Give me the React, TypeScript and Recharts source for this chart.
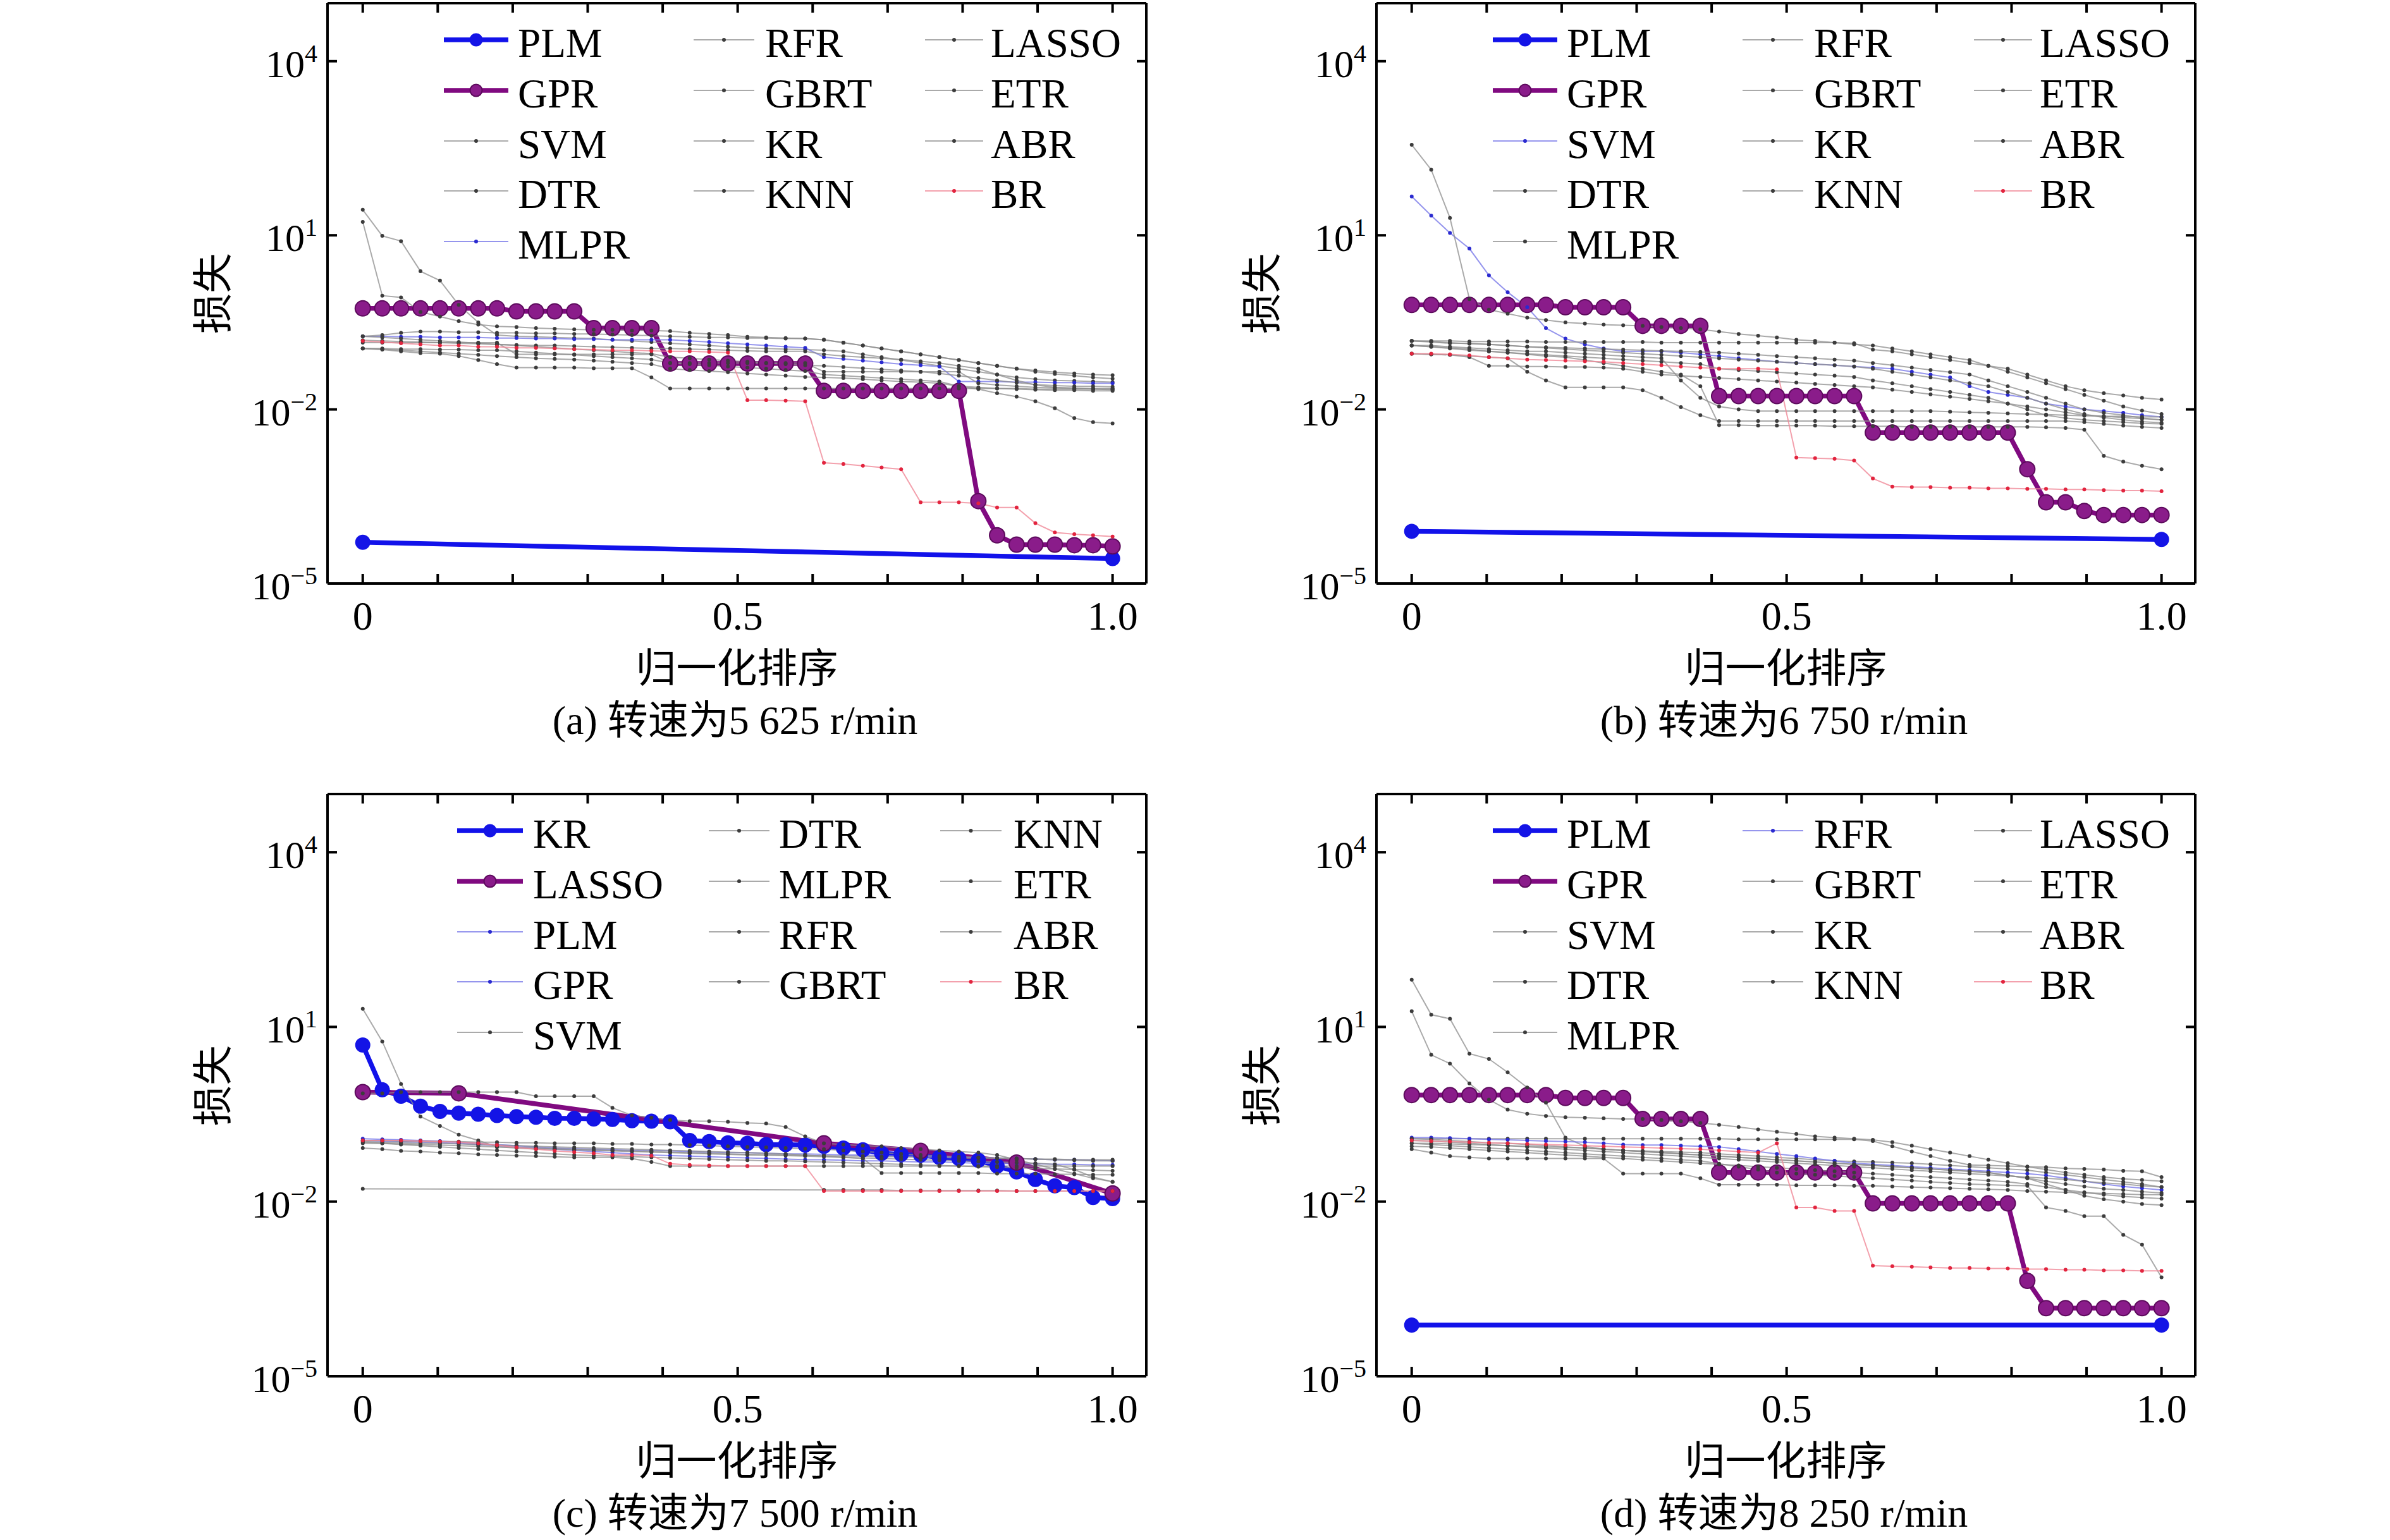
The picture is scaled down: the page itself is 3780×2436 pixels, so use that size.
import React from 'react'
import { LineChart, Line, XAxis, YAxis, ReferenceLine } from 'recharts'

const N = null

// normalized rank of each sample (40 samples per model)
const RANK = [
  0, 0.026, 0.051, 0.077, 0.103, 0.128, 0.154, 0.179, 0.205, 0.231,
  0.256, 0.282, 0.308, 0.333, 0.359, 0.385, 0.41, 0.436, 0.462, 0.487,
  0.513, 0.538, 0.564, 0.59, 0.615, 0.641, 0.667, 0.692, 0.718, 0.744,
  0.769, 0.795, 0.821, 0.846, 0.872, 0.897, 0.923, 0.949, 0.974, 1,
]

const X_TICKS = [0, 0.1, 0.2, 0.3, 0.4, 0.5, 0.6, 0.7, 0.8, 0.9, 1]
const X_LABELS: Record<string, string> = { '0': '0', '0.5': '0.5', '1': '1.0' }
const Y_TICKS = [1e-5, 1e-2, 1e1, 1e4]
const X_DOMAIN = [-0.047, 1.045]
const Y_DOMAIN = [1e-5, 1e5]

// ---- values are log10(loss); N = no sample ----

// (a) 5 625 r/min
const PLM_A = [-4.29, N, N, N, N, N, N, N, N, N, N, N, N, N, N, N, N, N, N, N, N, N, N, N, N, N, N, N, N, N, N, N, N, N, N, N, N, N, N, -4.57]
const GPR_A = [
  -0.26, -0.26, -0.26, -0.26, -0.26, -0.26, -0.26, -0.26, -0.31, -0.31,
  -0.31, -0.31, -0.6, -0.6, -0.6, -0.6, -1.21, -1.21, -1.21, -1.21,
  -1.21, -1.21, -1.21, -1.21, -1.68, -1.68, -1.68, -1.68, -1.68, -1.68,
  -1.68, -1.68, -3.58, -4.17, -4.33, -4.33, -4.33, -4.34, -4.34, -4.36,
]
const SVM_A = [
  1.44, 0.99, 0.9, 0.38, 0.22, -0.2, -0.5, -0.72, -0.74, -0.75,
  -0.76, -0.77, -0.78, -0.8, -0.82, -0.84, -0.86, -0.88, -0.9, -0.92,
  -0.94, -0.95, -0.96, -0.97, -0.98, -1.0, -1.05, -1.1, -1.15, -1.2,
  -1.25, -1.3, -1.35, -1.4, -1.45, -1.48, -1.5, -1.51, -1.52, -1.53,
]
const DTR_A = [
  1.23, -0.04, -0.07, -0.32, -0.4, -0.48, -0.54, -0.57, -0.58, -0.6,
  -0.61, -0.62, -0.63, -0.63, -0.64, -0.64, -0.65, -0.68, -0.7, -0.72,
  -0.75, -0.76, -0.77, -0.78, -0.8, -0.85, -0.9, -0.95, -1.0, -1.05,
  -1.1, -1.15, -1.2, -1.25, -1.3, -1.33, -1.36, -1.38, -1.4, -1.41,
]
const MLPR_A = [
  -0.74, -0.74, -0.75, -0.75, -0.76, -0.76, -0.76, -0.77, -0.77, -0.78,
  -0.78, -0.79, -0.79, -0.8, -0.8, -0.8, -0.8, -0.82, -0.84, -0.86,
  -0.88, -0.9, -0.92, -0.94, -1.1, -1.13, -1.16, -1.19, -1.22, -1.24,
  -1.26, -1.52, -1.52, -1.52, -1.53, -1.53, -1.54, -1.54, -1.55, -1.55,
]
const RFR_A = [
  -0.81, -0.82, -0.83, -0.84, -0.85, -0.86, -0.87, -0.88, -0.89, -0.9,
  -0.9, -0.91, -0.92, -0.93, -0.94, -0.95, -0.95, -0.96, -0.97, -0.98,
  -0.99, -1.0, -1.0, -1.0, -1.05, -1.08, -1.1, -1.12, -1.14, -1.17,
  -1.2, -1.25, -1.3, -1.4, -1.5, -1.58, -1.62, -1.63, -1.64, -1.64,
]
const GBRT_A = [
  -0.95, -0.97, -1.0, -1.03, -1.04, -1.08, -1.15, -1.22, -1.28, -1.28,
  -1.28, -1.28, -1.29, -1.29, -1.29, -1.45, -1.64, -1.64, -1.64, -1.64,
  -1.64, -1.64, -1.64, -1.64, -1.64, -1.64, -1.64, -1.64, -1.64, -1.64,
  -1.64, -1.64, -1.64, -1.64, -1.64, -1.65, -1.65, -1.65, -1.65, -1.65,
]
const KR_A = [
  -0.74, -0.72, -0.68, -0.66, -0.66, -0.67, -0.67, -0.68, -0.68, -0.69,
  -0.69, -0.7, -0.7, -0.71, -0.72, -0.73, -0.74, -0.75, -0.76, -0.76,
  -0.77, -0.77, -0.78, -0.78, -0.8, -0.85, -0.9, -0.95, -1.0, -1.05,
  -1.1, -1.15, -1.2, -1.25, -1.3, -1.35, -1.39, -1.42, -1.45, -1.47,
]
const KNN_A = [
  -0.95, -0.96, -0.98, -1.0, -1.02, -1.04, -1.06, -1.08, -1.1, -1.12,
  -1.13, -1.14, -1.16, -1.18, -1.2, -1.22, -1.3, -1.32, -1.34, -1.36,
  -1.38, -1.4, -1.42, -1.44, -1.45, -1.46, -1.48, -1.5, -1.52, -1.53,
  -1.55, -1.6, -1.65, -1.72, -1.78, -1.86, -1.98, -2.15, -2.22, -2.24,
]
const LASSO_A = [
  -0.74, -0.76, -0.78, -0.8, -0.82, -0.84, -0.86, -0.88, -0.9, -0.92,
  -0.94, -0.96, -0.98, -1.0, -1.02, -1.04, -1.1, -1.12, -1.14, -1.16,
  -1.18, -1.2, -1.22, -1.24, -1.25, -1.27, -1.29, -1.31, -1.33, -1.35,
  -1.38, -1.42, -1.46, -1.5, -1.54, -1.57, -1.59, -1.6, -1.6, -1.61,
]
const ETR_A = [
  -0.85, -0.85, -0.85, -0.85, -0.85, -0.85, -0.85, -0.85, -1.05, -1.05,
  -1.05, -1.05, -1.05, -1.05, -1.05, -1.05, -1.2, -1.2, -1.2, -1.2,
  -1.2, -1.2, -1.2, -1.2, -1.35, -1.35, -1.35, -1.35, -1.35, -1.35,
  -1.35, -1.35, -1.55, -1.58, -1.6, -1.62, -1.63, -1.64, -1.65, -1.66,
]
const ABR_A = [
  -0.95, -0.95, -0.96, -0.96, -0.97, -0.97, -0.98, -0.98, -1.0, -1.02,
  -1.04, -1.06, -1.08, -1.1, -1.12, -1.14, -1.2, -1.22, -1.24, -1.26,
  -1.28, -1.3, -1.32, -1.34, -1.4, -1.42, -1.44, -1.46, -1.48, -1.5,
  -1.52, -1.6, -1.62, -1.64, -1.65, -1.66, -1.67, -1.67, -1.68, -1.68,
]
const BR_A = [
  -0.82, -0.84, -0.86, -0.88, -0.9, -0.9, -0.92, -0.92, -0.94, -0.94,
  -0.95, -0.96, -0.97, -0.98, -0.98, -0.99, -1.0, -1.0, -1.01, -1.02,
  -1.84, -1.84, -1.85, -1.86, -2.92, -2.94, -2.97, -3.0, -3.03, -3.6,
  -3.6, -3.6, -3.62, -3.69, -3.69, -3.96, -4.12, -4.15, -4.17, -4.19,
]

// (b) 6 750 r/min
const PLM_B = [-4.1, N, N, N, N, N, N, N, N, N, N, N, N, N, N, N, N, N, N, N, N, N, N, N, N, N, N, N, N, N, N, N, N, N, N, N, N, N, N, -4.24]
const GPR_B = [
  -0.2, -0.2, -0.2, -0.2, -0.2, -0.2, -0.2, -0.2, -0.24, -0.24,
  -0.24, -0.24, -0.56, -0.56, -0.56, -0.56, -1.77, -1.77, -1.77, -1.77,
  -1.77, -1.77, -1.77, -1.77, -2.4, -2.4, -2.4, -2.4, -2.4, -2.4,
  -2.4, -2.4, -3.03, -3.6, -3.6, -3.75, -3.82, -3.82, -3.82, -3.82,
]
const SVM_B = [
  1.67, 1.34, 1.04, 0.77, 0.31, 0.02, -0.24, -0.6, -0.78, -0.88,
  -0.95, -1.0, -1.0, -1.0, -1.02, -1.05, -1.08, -1.12, -1.15, -1.18,
  -1.2, -1.22, -1.24, -1.26, -1.28, -1.3, -1.35, -1.4, -1.45, -1.6,
  -1.7, -1.75, -1.8, -1.9, -1.95, -2.0, -2.03, -2.06, -2.1, -2.13,
]
const DTR_B = [
  2.56, 2.13, 1.3, -0.1, -0.28, -0.35, -0.42, -0.46, -0.5, -0.52,
  -0.54, -0.55, -0.56, -0.58, -0.6, -0.62, -0.66, -0.7, -0.73, -0.76,
  -0.8, -0.82, -0.85, -0.88, -0.9, -0.95, -1.0, -1.05, -1.1, -1.15,
  -1.25, -1.35, -1.45, -1.55, -1.65, -1.75, -1.85, -1.95, -2.02, -2.08,
]
const MLPR_B = [
  -0.82, -0.82, -0.82, -0.83, -0.83, -0.83, -0.83, -0.84, -0.84, -0.84,
  -0.84, -0.84, -0.84, -0.85, -0.85, -0.85, -0.85, -0.85, -0.85, -0.85,
  -0.85, -0.85, -0.85, -0.86, -0.97, -1.0, -1.05, -1.1, -1.15, -1.2,
  -1.25, -1.3, -1.4, -1.5, -1.6, -1.67, -1.72, -1.76, -1.8, -1.83,
]
const RFR_B = [
  -0.82, -0.83, -0.85, -0.87, -0.88, -0.9, -0.92, -0.93, -0.94, -0.95,
  -0.96, -0.97, -0.98, -0.99, -1.0, -1.01, -1.02, -1.04, -1.06, -1.08,
  -1.1, -1.12, -1.14, -1.16, -1.2, -1.24, -1.28, -1.32, -1.36, -1.4,
  -1.5, -1.6, -1.7, -1.8, -1.9, -2.0, -2.06, -2.1, -2.15, -2.18,
]
const GBRT_B = [
  -1.04, -1.05, -1.06, -1.08, -1.1, -1.12, -1.35, -1.5, -1.62, -1.62,
  -1.62, -1.62, -1.67, -1.8, -1.96, -2.1, -2.2, -2.2, -2.2, -2.2,
  -2.2, -2.2, -2.2, -2.2, -2.2, -2.2, -2.2, -2.2, -2.2, -2.2,
  -2.2, -2.2, -2.2, -2.2, -2.2, -2.22, -2.25, -2.28, -2.3, -2.32,
]
const KR_B = [
  -0.82, -0.84, -0.86, -0.86, -0.88, -0.9, -0.92, -0.94, -0.96, -0.98,
  -1.0, -1.02, -1.04, -1.06, -1.08, -1.1, -1.12, -1.14, -1.16, -1.18,
  -1.2, -1.22, -1.24, -1.26, -1.3, -1.35, -1.4, -1.45, -1.5, -1.55,
  -1.6, -1.7, -1.8, -1.9, -2.0, -2.08, -2.14, -2.18, -2.21, -2.23,
]
const KNN_B = [
  -0.9, -0.92, -0.95, -0.98, -1.0, -1.02, -1.05, -1.08, -1.1, -1.15,
  -1.2, -1.25, -1.3, -1.35, -1.4, -1.6, -2.27, -2.27, -2.28, -2.28,
  -2.28, -2.28, -2.29, -2.29, -2.29, -2.29, -2.3, -2.3, -2.3, -2.3,
  -2.3, -2.3, -2.3, -2.31, -2.32, -2.35, -2.8, -2.9, -2.97, -3.03,
]
const LASSO_B = [
  -0.9, -0.9, -0.92, -0.94, -0.96, -0.98, -1.0, -1.0, -1.02, -1.04,
  -1.06, -1.08, -1.1, -1.12, -1.5, -1.8, -1.95, -2.0, -2.03, -2.03,
  -2.03, -2.03, -2.03, -2.03, -2.03, -2.03, -2.03, -2.03, -2.04, -2.05,
  -2.06, -2.07, -2.08, -2.09, -2.1, -2.11, -2.12, -2.12, -2.13, -2.13,
]
const ETR_B = [
  -1.04, -1.05, -1.06, -1.1, -1.25, -1.25, -1.26, -1.26, -1.27, -1.27,
  -1.28, -1.3, -1.35, -1.4, -1.42, -1.44, -1.46, -1.48, -1.5, -1.52,
  -1.54, -1.56, -1.58, -1.6, -1.62, -1.66, -1.7, -1.74, -1.78, -1.82,
  -1.86, -1.9, -1.95, -2.0, -2.05, -2.1, -2.12, -2.14, -2.16, -2.18,
]
const ABR_B = [
  -0.9, -0.92, -0.94, -0.96, -1.0, -1.02, -1.04, -1.06, -1.08, -1.1,
  -1.12, -1.14, -1.16, -1.18, -1.2, -1.22, -1.3, -1.32, -1.34, -1.36,
  -1.38, -1.4, -1.42, -1.44, -1.5, -1.55, -1.6, -1.65, -1.7, -1.75,
  -1.8, -1.9, -2.0, -2.1, -2.15, -2.18, -2.2, -2.22, -2.24, -2.25,
]
const BR_B = [
  -1.04, -1.04, -1.05, -1.07, -1.1, -1.12, -1.14, -1.15, -1.16, -1.17,
  -1.18, -1.2, -1.22, -1.24, -1.26, -1.28, -1.3, -1.3, -1.3, -1.31,
  -2.83, -2.84, -2.85, -2.88, -3.19, -3.33, -3.34, -3.34, -3.35, -3.35,
  -3.36, -3.36, -3.37, -3.37, -3.38, -3.38, -3.39, -3.4, -3.4, -3.41,
]

// (c) 7 500 r/min
const KR_C = [
  0.69, -0.08, -0.19, -0.36, -0.45, -0.48, -0.5, -0.52, -0.54, -0.55,
  -0.57, -0.57, -0.58, -0.59, -0.61, -0.62, -0.63, -0.95, -0.97, -0.99,
  -1.0, -1.02, -1.02, -1.03, -1.05, -1.08, -1.11, -1.17, -1.19, -1.2,
  -1.24, -1.26, -1.29, -1.39, -1.49, -1.62, -1.73, -1.76, -1.93, -1.95,
]
const LASSO_C = [
  -0.12, N, N, N, N, -0.14, N, N, N, N,
  N, N, N, N, N, N, N, N, N, N,
  N, N, N, N, -1.0, N, N, N, N, -1.13,
  N, N, N, N, -1.33, N, N, N, N, -1.86,
]
const PLM_C = [
  -0.92, -0.93, -0.94, -0.95, -0.96, -0.98, -1.0, -1.02, -1.04, -1.06,
  -1.08, -1.09, -1.1, -1.11, -1.12, -1.12, -1.13, -1.14, -1.15, -1.16,
  -1.16, -1.17, -1.18, -1.18, -1.19, -1.2, -1.2, -1.21, -1.22, -1.22,
  -1.23, -1.24, -1.24, -1.25, -1.26, -1.27, -1.28, -1.28, -1.29, -1.3,
]
const GPR_C = [
  -0.95, -0.96, -0.97, -0.98, -0.99, -1.0, -1.02, -1.04, -1.06, -1.08,
  -1.1, -1.12, -1.14, -1.16, -1.18, -1.2, -1.21, -1.22, -1.23, -1.24,
  -1.25, -1.26, -1.27, -1.28, -1.28, -1.29, -1.3, -1.3, -1.31, -1.32,
  -1.32, -1.33, -1.34, -1.34, -1.35, -1.35, -1.36, -1.36, -1.37, -1.37,
]
const SVM_C = [
  1.31, 0.75, 0.02, -0.54, -0.7, -0.85, -0.95, -1.06, -1.08, -1.1,
  -1.1, -1.11, -1.12, -1.13, -1.14, -1.15, -1.16, -1.17, -1.18, -1.19,
  -1.2, -1.2, -1.2, -1.21, -1.21, -1.22, -1.22, -1.23, -1.23, -1.24,
  -1.24, -1.25, -1.25, -1.26, -1.26, -1.27, -1.27, -1.28, -1.28, -1.28,
]
const DTR_C = [
  -0.14, -0.14, -0.12, -0.12, -0.12, -0.12, -0.12, -0.12, -0.12, -0.19,
  -0.19, -0.19, -0.19, -0.39, -0.52, -0.56, -0.6, -0.62, -0.62, -0.63,
  -0.65, -0.66, -0.72, -0.88, -1.0, -1.02, -1.04, -1.05, -1.08, -1.1,
  -1.12, -1.14, -1.16, -1.2, -1.28, -1.36, -1.44, -1.52, -1.6, -1.66,
]
const MLPR_C = [
  -0.95, -0.95, -0.96, -0.96, -0.97, -0.97, -0.98, -0.98, -0.99, -0.99,
  -1.0, -1.0, -1.0, -1.01, -1.01, -1.02, -1.02, -1.03, -1.04, -1.05,
  -1.06, -1.07, -1.08, -1.09, -1.1, -1.12, -1.14, -1.16, -1.18, -1.2,
  -1.22, -1.23, -1.24, -1.25, -1.26, -1.27, -1.28, -1.29, -1.3, -1.3,
]
const RFR_C = [
  -1.08, -1.1, -1.13, -1.14, -1.16, -1.17, -1.19, -1.2, -1.21, -1.22,
  -1.23, -1.24, -1.24, -1.24, -1.26, -1.32, -1.39, -1.39, -1.39, -1.39,
  -1.39, -1.39, -1.39, -1.39, -1.39, -1.39, -1.39, -1.39, -1.39, -1.39,
  -1.39, -1.39, -1.39, -1.39, -1.39, -1.39, -1.39, -1.39, -1.39, -1.39,
]
const GBRT_C = [
  -0.98, -1.0, -1.02, -1.04, -1.06, -1.08, -1.1, -1.12, -1.14, -1.16,
  -1.18, -1.2, -1.21, -1.22, -1.23, -1.24, -1.25, -1.26, -1.27, -1.28,
  -1.29, -1.3, -1.3, -1.31, -1.32, -1.33, -1.34, -1.35, -1.36, -1.37,
  -1.38, -1.39, -1.4, -1.41, -1.42, -1.43, -1.44, -1.45, -1.46, -1.47,
]
const KNN_C = [
  -1.78, N, N, N, N, N, N, N, N, N,
  N, N, N, N, N, N, N, N, N, N,
  N, N, N, N, -1.8, -1.8, -1.8, -1.8, -1.81, -1.81,
  -1.81, -1.81, -1.81, -1.81, -1.82, -1.82, -1.82, -1.82, -1.82, -1.82,
]
const ETR_C = [
  -0.97, -0.98, -0.99, -1.0, -1.0, -1.01, -1.02, -1.03, -1.04, -1.05,
  -1.06, -1.07, -1.08, -1.09, -1.1, -1.11, -1.12, -1.13, -1.14, -1.15,
  -1.16, -1.17, -1.18, -1.2, -1.22, -1.24, -1.26, -1.51, -1.51, -1.51,
  -1.51, -1.51, -1.51, -1.52, -1.52, -1.52, -1.53, -1.53, -1.54, -1.54,
]
const ABR_C = [
  -1.0, -1.0, -1.01, -1.02, -1.03, -1.04, -1.05, -1.06, -1.07, -1.08,
  -1.09, -1.1, -1.11, -1.12, -1.13, -1.14, -1.15, -1.16, -1.17, -1.18,
  -1.19, -1.2, -1.21, -1.22, -1.23, -1.24, -1.25, -1.26, -1.27, -1.28,
  -1.29, -1.3, -1.31, -1.32, -1.33, -1.34, -1.36, -1.45, -1.58, -1.66,
]
const BR_C = [
  -0.95, -0.95, -0.95, -0.96, -0.97, -0.98, -1.0, -1.03, -1.07, -1.1,
  -1.13, -1.15, -1.17, -1.2, -1.2, -1.21, -1.35, -1.37, -1.38, -1.39,
  -1.39, -1.39, -1.39, -1.39, -1.82, -1.82, -1.82, -1.82, -1.82, -1.82,
  -1.82, -1.82, -1.82, -1.82, -1.82, -1.82, -1.82, -1.82, -1.82, -1.82,
]

// (d) 8 250 r/min
const PLM_D = [-4.12, N, N, N, N, N, N, N, N, N, N, N, N, N, N, N, N, N, N, N, N, N, N, N, N, N, N, N, N, N, N, N, N, N, N, N, N, N, N, -4.12]
const GPR_D = [
  -0.17, -0.17, -0.17, -0.17, -0.17, -0.17, -0.17, -0.17, -0.22, -0.22,
  -0.22, -0.22, -0.58, -0.58, -0.58, -0.58, -1.5, -1.5, -1.5, -1.5,
  -1.5, -1.5, -1.5, -1.5, -2.03, -2.03, -2.03, -2.03, -2.03, -2.03,
  -2.03, -2.03, -3.36, -3.83, -3.83, -3.83, -3.83, -3.83, -3.83, -3.83,
]
const SVM_D = [
  1.81, 1.21, 1.14, 0.54, 0.45, 0.22, -0.04, -0.3, -0.9, -1.05,
  -1.1, -1.12, -1.13, -1.14, -1.15, -1.16, -1.18, -1.2, -1.22, -1.24,
  -1.26, -1.28, -1.3, -1.31, -1.32, -1.33, -1.34, -1.36, -1.38, -1.4,
  -1.42, -1.44, -1.46, -1.5, -1.54, -1.58, -1.62, -1.66, -1.7, -1.75,
]
const DTR_D = [
  1.27, 0.52, 0.37, 0.03, -0.25, -0.42, -0.49, -0.53, -0.55, -0.56,
  -0.57, -0.58, -0.58, -0.6, -0.62, -0.65, -0.68, -0.72, -0.76, -0.8,
  -0.84, -0.88, -0.9, -0.92, -0.94, -0.98, -1.04, -1.1, -1.16, -1.22,
  -1.28, -1.34, -1.4, -1.45, -1.5, -1.54, -1.58, -1.61, -1.63, -1.65,
]
const MLPR_D = [
  -0.92, -0.92, -0.92, -0.92, -0.92, -0.92, -0.92, -0.92, -0.92, -0.92,
  -0.92, -0.92, -0.92, -0.92, -0.92, -0.92, -0.92, -0.93, -0.93, -0.93,
  -0.93, -0.93, -0.93, -0.93, -0.96, -1.05, -1.14, -1.22, -1.3, -1.37,
  -1.38, -1.39, -1.4, -1.41, -1.43, -1.44, -1.45, -1.47, -1.48, -1.58,
]
const RFR_D = [
  -0.9, -0.9, -0.91, -0.92, -0.93, -0.94, -0.95, -0.96, -0.97, -0.98,
  -1.0, -1.02, -1.03, -1.03, -1.04, -1.05, -1.06, -1.1, -1.14, -1.18,
  -1.22, -1.26, -1.3, -1.34, -1.36, -1.38, -1.4, -1.42, -1.44, -1.46,
  -1.48, -1.5, -1.52, -1.55, -1.6, -1.65, -1.7, -1.74, -1.77, -1.8,
]
const GBRT_D = [
  -1.1, -1.16, -1.22, -1.24, -1.26, -1.26, -1.26, -1.26, -1.26, -1.26,
  -1.26, -1.52, -1.52, -1.52, -1.52, -1.6, -1.71, -1.71, -1.71, -1.71,
  -1.72, -1.72, -1.72, -1.73, -1.73, -1.74, -1.75, -1.76, -1.77, -1.78,
  -1.79, -1.8, -1.82, -1.83, -1.84, -1.85, -1.86, -1.87, -1.88, -1.88,
]
const KR_D = [
  -0.92, -0.93, -0.95, -0.97, -0.99, -1.0, -1.02, -1.04, -1.06, -1.08,
  -1.1, -1.12, -1.14, -1.16, -1.18, -1.2, -1.22, -1.24, -1.26, -1.28,
  -1.3, -1.32, -1.34, -1.36, -1.38, -1.4, -1.42, -1.44, -1.46, -1.48,
  -1.5, -1.55, -1.6, -1.7, -1.8, -1.9, -1.96, -2.0, -2.04, -2.06,
]
const KNN_D = [
  -1.0, -1.02, -1.04, -1.06, -1.08, -1.1, -1.12, -1.14, -1.16, -1.18,
  -1.2, -1.22, -1.24, -1.26, -1.28, -1.3, -1.35, -1.4, -1.45, -1.5,
  -1.52, -1.54, -1.56, -1.58, -1.6, -1.62, -1.64, -1.66, -1.68, -1.7,
  -1.71, -1.72, -1.73, -2.1, -2.16, -2.25, -2.25, -2.57, -2.74, -3.3,
]
const LASSO_D = [
  -0.95, -0.96, -0.98, -1.0, -1.02, -1.04, -1.06, -1.08, -1.1, -1.12,
  -1.14, -1.16, -1.18, -1.2, -1.22, -1.24, -1.26, -1.28, -1.3, -1.32,
  -1.34, -1.36, -1.38, -1.4, -1.42, -1.44, -1.46, -1.48, -1.5, -1.52,
  -1.54, -1.56, -1.58, -1.6, -1.62, -1.65, -1.68, -1.7, -1.73, -1.75,
]
const ETR_D = [
  -1.05, -1.06, -1.08, -1.1, -1.12, -1.14, -1.16, -1.18, -1.2, -1.22,
  -1.24, -1.26, -1.28, -1.3, -1.32, -1.34, -1.36, -1.38, -1.4, -1.42,
  -1.44, -1.46, -1.48, -1.5, -1.52, -1.54, -1.56, -1.58, -1.6, -1.62,
  -1.64, -1.66, -1.7, -1.75, -1.8, -1.84, -1.88, -1.91, -1.93, -1.95,
]
const ABR_D = [
  -1.0, -1.0, -1.01, -1.02, -1.03, -1.04, -1.05, -1.06, -1.07, -1.08,
  -1.1, -1.12, -1.14, -1.16, -1.18, -1.2, -1.22, -1.24, -1.26, -1.28,
  -1.3, -1.32, -1.34, -1.36, -1.38, -1.4, -1.42, -1.44, -1.46, -1.48,
  -1.5, -1.55, -1.6, -1.65, -1.7, -1.74, -1.78, -1.8, -1.83, -1.85,
]
const BR_D = [
  -0.95, -0.96, -0.97, -0.98, -0.99, -1.0, -1.01, -1.02, -1.03, -1.04,
  -1.05, -1.06, -1.07, -1.08, -1.09, -1.1, -1.12, -1.14, -1.16, -1.0,
  -2.1, -2.1, -2.16, -2.16, -3.1, -3.11, -3.12, -3.13, -3.14, -3.14,
  -3.15, -3.15, -3.16, -3.16, -3.17, -3.17, -3.18, -3.18, -3.19, -3.19,
]

const FONT = '"Liberation Serif", "Times New Roman", "Noto Sans CJK SC", serif'

type Kind = 'thickBlue' | 'thickPurple' | 'gray' | 'blue' | 'red'
const STYLE: Record<Kind, { stroke: string; width: number; r: number; fill: string; dotStroke: string; opacity: number }> = {
  thickBlue: { stroke: '#1212ea', width: 7.5, r: 11, fill: '#1414e6', dotStroke: '#1414e6', opacity: 1 },
  thickPurple: { stroke: '#800a80', width: 7.5, r: 12, fill: '#8a1c8a', dotStroke: '#5c0a5c', opacity: 1 },
  gray: { stroke: '#8e8e8e', width: 2, r: 3, fill: '#3c3c3c', dotStroke: 'none', opacity: 0.75 },
  blue: { stroke: '#7a7ae8', width: 2, r: 3, fill: '#2a2ad0', dotStroke: 'none', opacity: 0.8 },
  red: { stroke: '#f08a98', width: 2, r: 3, fill: '#e2243e', dotStroke: 'none', opacity: 0.8 },
}

type Series = { name: string; vals: (number | null)[]; kind: Kind }

const toRows = (vals: (number | null)[]) =>
  vals.flatMap((v, i) => (v === null ? [] : [{ x: RANK[i], y: Math.pow(10, v) }]))

// geometry (px)
const CHART_W = 1505
const Y_AXIS_W = 200
const X_AXIS_H = 100
const M_TOP = 5
const M_RIGHT = 10
const PLOT_W = CHART_W - Y_AXIS_W - M_RIGHT
const TICK_LEN = 15
const FRAME = 4

const LEGEND_ROWS = [58, 138, 218, 297, 377]
const LEGEND_STD = [
  { x0: 184, x1: 286, tx: 301 },
  { x0: 579, x1: 675, tx: 692 },
  { x0: 945, x1: 1037, tx: 1049 },
]
const LEGEND_C = [
  { x0: 205, x1: 309, tx: 325 },
  { x0: 603, x1: 699, tx: 714 },
  { x0: 969, x1: 1066, tx: 1085 },
]

type PanelCfg = {
  left: number
  top: number
  plotH: number
  caption: string
  series: Series[]
  legend: string[][]
  legendPos: { x0: number; x1: number; tx: number }[]
}

const stdSeries = (
  plm: (number | null)[], gpr: (number | null)[], svm: (number | null)[], dtr: (number | null)[],
  mlpr: (number | null)[], rfr: (number | null)[], gbrt: (number | null)[], kr: (number | null)[],
  knn: (number | null)[], lasso: (number | null)[], etr: (number | null)[], abr: (number | null)[],
  br: (number | null)[], kinds: Partial<Record<string, Kind>>,
): Series[] => {
  const list: [string, (number | null)[]][] = [
    ['PLM', plm], ['GPR', gpr], ['SVM', svm], ['DTR', dtr], ['MLPR', mlpr], ['RFR', rfr],
    ['GBRT', gbrt], ['KR', kr], ['KNN', knn], ['LASSO', lasso], ['ETR', etr], ['ABR', abr], ['BR', br],
  ]
  return list.map(([name, vals]) => ({
    name,
    vals,
    kind: name === 'PLM' ? 'thickBlue' : name === 'GPR' ? 'thickPurple' : kinds[name] ?? 'gray',
  }))
}

const STD_LEGEND = [
  ['PLM', 'GPR', 'SVM', 'DTR', 'MLPR'],
  ['RFR', 'GBRT', 'KR', 'KNN'],
  ['LASSO', 'ETR', 'ABR', 'BR'],
]

const PANELS: PanelCfg[] = [
  {
    left: 318, top: 0, plotH: 918, caption: '(a) 转速为5 625 r/min',
    series: stdSeries(PLM_A, GPR_A, SVM_A, DTR_A, MLPR_A, RFR_A, GBRT_A, KR_A, KNN_A, LASSO_A, ETR_A, ABR_A, BR_A,
      { MLPR: 'blue', BR: 'red' }),
    legend: STD_LEGEND, legendPos: LEGEND_STD,
  },
  {
    left: 1977, top: 0, plotH: 918, caption: '(b) 转速为6 750 r/min',
    series: stdSeries(PLM_B, GPR_B, SVM_B, DTR_B, MLPR_B, RFR_B, GBRT_B, KR_B, KNN_B, LASSO_B, ETR_B, ABR_B, BR_B,
      { SVM: 'blue', BR: 'red' }),
    legend: STD_LEGEND, legendPos: LEGEND_STD,
  },
  {
    left: 318, top: 1251, plotH: 921, caption: '(c) 转速为7 500 r/min',
    series: [
      { name: 'KR', vals: KR_C, kind: 'thickBlue' },
      { name: 'LASSO', vals: LASSO_C, kind: 'thickPurple' },
      { name: 'PLM', vals: PLM_C, kind: 'blue' },
      { name: 'GPR', vals: GPR_C, kind: 'blue' },
      { name: 'SVM', vals: SVM_C, kind: 'gray' },
      { name: 'DTR', vals: DTR_C, kind: 'gray' },
      { name: 'MLPR', vals: MLPR_C, kind: 'gray' },
      { name: 'RFR', vals: RFR_C, kind: 'gray' },
      { name: 'GBRT', vals: GBRT_C, kind: 'gray' },
      { name: 'KNN', vals: KNN_C, kind: 'gray' },
      { name: 'ETR', vals: ETR_C, kind: 'gray' },
      { name: 'ABR', vals: ABR_C, kind: 'gray' },
      { name: 'BR', vals: BR_C, kind: 'red' },
    ],
    legend: [
      ['KR', 'LASSO', 'PLM', 'GPR', 'SVM'],
      ['DTR', 'MLPR', 'RFR', 'GBRT'],
      ['KNN', 'ETR', 'ABR', 'BR'],
    ],
    legendPos: LEGEND_C,
  },
  {
    left: 1977, top: 1251, plotH: 921, caption: '(d) 转速为8 250 r/min',
    series: stdSeries(PLM_D, GPR_D, SVM_D, DTR_D, MLPR_D, RFR_D, GBRT_D, KR_D, KNN_D, LASSO_D, ETR_D, ABR_D, BR_D,
      { RFR: 'blue', BR: 'red' }),
    legend: STD_LEGEND, legendPos: LEGEND_STD,
  },
]

function XTick(props: any) {
  const { x, y, payload, plotH } = props
  const label = X_LABELS[String(payload.value)]
  return (
    <g>
      <line x1={x} x2={x} y1={y} y2={y - TICK_LEN} stroke="#000" strokeWidth={FRAME} />
      <line x1={x} x2={x} y1={y - plotH} y2={y - plotH + TICK_LEN} stroke="#000" strokeWidth={FRAME} />
      {label !== undefined && (
        <text x={x} y={y + 73} textAnchor="middle" fontSize={64} fontFamily={FONT} fill="#000">{label}</text>
      )}
    </g>
  )
}

function YTick(props: any) {
  const { x, y, payload } = props
  const exp = Math.round(Math.log10(payload.value))
  const sup = exp < 0 ? `\u2212${-exp}` : String(exp)
  return (
    <g>
      <line x1={x} x2={x + TICK_LEN} y1={y} y2={y} stroke="#000" strokeWidth={FRAME} />
      <line x1={x + PLOT_W - TICK_LEN} x2={x + PLOT_W} y1={y} y2={y} stroke="#000" strokeWidth={FRAME} />
      <text x={x - 16} y={y + 25} textAnchor="end" fontSize={62} fontFamily={FONT} fill="#000">
        10<tspan dy={-24} fontSize={40}>{sup}</tspan>
      </text>
    </g>
  )
}

function Swatch({ kind, w }: { kind: Kind; w: number }) {
  const s = STYLE[kind]
  const thick = kind === 'thickBlue' || kind === 'thickPurple'
  return (
    <svg width={w} height={30} style={{ display: 'block' }}>
      <line x1={0} x2={w} y1={15} y2={15} stroke={s.stroke} strokeWidth={s.width} strokeOpacity={s.opacity} />
      <circle cx={w / 2} cy={15} r={thick ? 9.5 : s.r} fill={s.fill} stroke={s.dotStroke} strokeWidth={2} />
    </svg>
  )
}

function Panel({ cfg }: { cfg: PanelCfg }) {
  const H = M_TOP + cfg.plotH + X_AXIS_H
  const plotBottom = M_TOP + cfg.plotH
  const centerX = Y_AXIS_W + PLOT_W / 2
  const kindOf = (name: string) => cfg.series.find(s => s.name === name)!.kind
  return (
    <div style={{ position: 'absolute', left: cfg.left, top: cfg.top, width: CHART_W, height: H }}>
      <LineChart width={CHART_W} height={H} margin={{ top: M_TOP, right: M_RIGHT, left: 0, bottom: 0 }}>
        <XAxis
          type="number"
          dataKey="x"
          domain={X_DOMAIN}
          ticks={X_TICKS}
          interval={0}
          allowDataOverflow
          height={X_AXIS_H}
          tickLine={false}
          tickSize={0}
          tickMargin={0}
          axisLine={{ stroke: '#000', strokeWidth: FRAME }}
          tick={(p: any) => <XTick {...p} plotH={cfg.plotH} />}
        />
        <YAxis
          type="number"
          scale="log"
          domain={Y_DOMAIN}
          ticks={Y_TICKS}
          interval={0}
          allowDataOverflow
          width={Y_AXIS_W}
          tickLine={false}
          tickSize={0}
          tickMargin={0}
          axisLine={{ stroke: '#000', strokeWidth: FRAME }}
          tick={(p: any) => <YTick {...p} />}
        />
        <ReferenceLine y={Y_DOMAIN[1]} stroke="#000" strokeWidth={FRAME} ifOverflow="visible" />
        <ReferenceLine x={X_DOMAIN[1]} stroke="#000" strokeWidth={FRAME} ifOverflow="visible" />
        {cfg.series.map(s => {
          const st = STYLE[s.kind]
          return (
            <Line
              key={s.name}
              name={s.name}
              data={toRows(s.vals)}
              dataKey="y"
              type="linear"
              stroke={st.stroke}
              strokeWidth={st.width}
              strokeOpacity={st.opacity}
              dot={{ r: st.r, fill: st.fill, stroke: st.dotStroke, strokeWidth: 2, fillOpacity: 1 }}
              activeDot={false}
              isAnimationActive={false}
            />
          )
        })}
      </LineChart>

      {/* legend, three columns inside the plot */}
      {cfg.legend.map((col, ci) =>
        col.map((name, ri) => {
          const pos = cfg.legendPos[ci]
          const cy = M_TOP + LEGEND_ROWS[ri]
          return (
            <React.Fragment key={name}>
              <div style={{ position: 'absolute', left: Y_AXIS_W + pos.x0, top: cy - 15 }}>
                <Swatch kind={kindOf(name)} w={pos.x1 - pos.x0} />
              </div>
              <div style={{
                position: 'absolute', left: Y_AXIS_W + pos.tx, top: cy + 5 - 40, height: 80, lineHeight: '80px',
                fontFamily: FONT, fontSize: 65, color: '#000', whiteSpace: 'nowrap',
              }}>{name}</div>
            </React.Fragment>
          )
        }),
      )}

      {/* y axis title */}
      <div style={{
        position: 'absolute', left: 20, top: M_TOP + cfg.plotH / 2, transform: 'translate(-50%, -50%) rotate(-90deg)',
        fontFamily: FONT, fontSize: 64, whiteSpace: 'nowrap', lineHeight: 1,
      }}>损失</div>

      {/* x axis title and caption */}
      <div style={{
        position: 'absolute', left: centerX, top: plotBottom + 135, transform: 'translate(-50%, -50%)',
        fontFamily: FONT, fontSize: 64, whiteSpace: 'nowrap', lineHeight: 1,
      }}>归一化排序</div>
      <div style={{
        position: 'absolute', left: centerX - 3, top: plotBottom + 217, transform: 'translate(-50%, -50%)',
        fontFamily: FONT, fontSize: 64, whiteSpace: 'nowrap', lineHeight: 1,
      }}>{cfg.caption}</div>
    </div>
  )
}

export default function App() {
  return (
    <div style={{ position: 'relative', width: 3780, height: 2436, background: '#fff', overflow: 'hidden' }}>
      <style>{'body{margin:0;background:#fff}'}</style>
      {PANELS.map((p, i) => <Panel key={i} cfg={p} />)}
    </div>
  )
}
